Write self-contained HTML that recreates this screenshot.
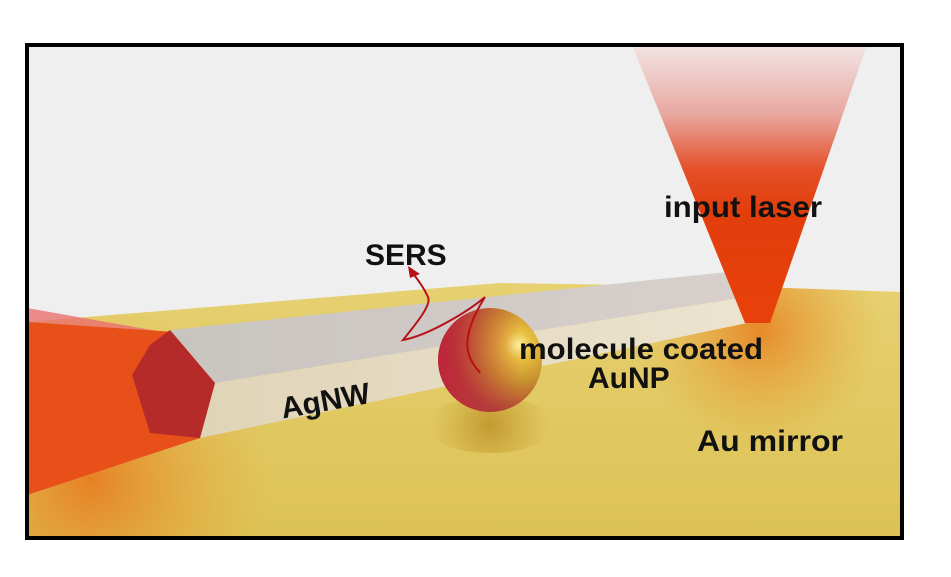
<!DOCTYPE html>
<html><head><meta charset="utf-8"><style>
html,body{margin:0;padding:0;background:#fff;}
svg{display:block;}
text{font-family:"Liberation Sans",sans-serif;font-weight:bold;fill:#111;}
</style></head><body>
<svg width="951" height="577" viewBox="0 0 951 577" xmlns="http://www.w3.org/2000/svg">
<defs>
<clipPath id="fc"><polygon points="27,322 500,283 760,287 902,292 902,538 27,538"/></clipPath>
<linearGradient id="floor" x1="0" y1="0" x2="0" y2="1">
<stop offset="0" stop-color="#e6d070"/><stop offset="1" stop-color="#dcc255"/></linearGradient>
<radialGradient id="glowR" cx="760" cy="330" r="120" gradientUnits="userSpaceOnUse">
<stop offset="0" stop-color="#e8781a" stop-opacity="0.8"/><stop offset="1" stop-color="#e8a030" stop-opacity="0"/></radialGradient>
<radialGradient id="glowL" cx="90" cy="480" r="180" gradientUnits="userSpaceOnUse">
<stop offset="0" stop-color="#e87018" stop-opacity="0.8"/><stop offset="1" stop-color="#e8a030" stop-opacity="0"/></radialGradient>
<radialGradient id="shadow" cx="490" cy="425" r="60" gradientUnits="userSpaceOnUse">
<stop offset="0" stop-color="#b07a10" stop-opacity="0.6"/><stop offset="1" stop-color="#c09020" stop-opacity="0"/></radialGradient>
<linearGradient id="cone" x1="0" y1="45" x2="0" y2="320" gradientUnits="userSpaceOnUse">
<stop offset="0" stop-color="#f2e4e4"/><stop offset="0.25" stop-color="#e8a8a0"/><stop offset="0.45" stop-color="#e4502a"/><stop offset="0.6" stop-color="#e23e0c"/><stop offset="1" stop-color="#e8400a"/></linearGradient>
<radialGradient id="sph" cx="518" cy="345" r="68" gradientUnits="userSpaceOnUse">
<stop offset="0" stop-color="#fff4a0"/><stop offset="0.2" stop-color="#e8c040"/><stop offset="0.55" stop-color="#c89030"/><stop offset="1" stop-color="#b04038"/></radialGradient>
<linearGradient id="sphL" x1="0" y1="0" x2="1" y2="0">
<stop offset="0" stop-color="#c0203a" stop-opacity="0.85"/><stop offset="0.45" stop-color="#c0303a" stop-opacity="0.35"/><stop offset="0.8" stop-color="#c0303a" stop-opacity="0"/></linearGradient>
<linearGradient id="topface" x1="0" y1="0" x2="1" y2="0">
<stop offset="0" stop-color="#c8c4c0"/><stop offset="1" stop-color="#d8d0cc"/></linearGradient>
<linearGradient id="sideface" x1="0" y1="0" x2="1" y2="0">
<stop offset="0" stop-color="#e0d4b8"/><stop offset="1" stop-color="#ece4d0"/></linearGradient>
</defs>
<rect x="27" y="45" width="875" height="493" fill="#efefef"/>
<polygon points="27,322 500,283 760,287 902,292 902,538 27,538" fill="url(#floor)"/>
<g clip-path="url(#fc)">
<rect x="27" y="283" width="875" height="255" fill="url(#glowR)"/>
<rect x="27" y="283" width="875" height="255" fill="url(#glowL)"/>
</g>
<ellipse cx="490" cy="425" rx="65" ry="28" fill="url(#shadow)"/>
<polygon points="27,308 27,322 180,335" fill="#e87070" opacity="0.8"/>
<polygon points="27,322 175,332 215,383 200,438 27,495" fill="#e8501a"/>
<polygon points="170,330 728,272 757,295 215,383" fill="url(#topface)"/>
<polygon points="215,383 757,295 747,323 200,438" fill="url(#sideface)"/>
<polygon points="170,330 215,383 200,438 150,433 132,375 150,345" fill="#b0282a" opacity="0.92"/>
<polygon points="632,45 867,45 770,323 745,323" fill="url(#cone)"/>
<circle cx="490" cy="360" r="52" fill="url(#sph)"/>
<circle cx="490" cy="360" r="52" fill="url(#sphL)"/>
<path d="M480,373 C470,360 455,345 485,297 C470,310 430,335 403,340 C415,325 432,305 428,297 C424,288 418,280 412,272" fill="none" stroke="#b81018" stroke-width="2"/>
<polygon points="408,266 420,274 410,278" fill="#b81018"/>
<text x="365" y="265" font-size="30">SERS</text>
<text x="280" y="410" font-size="30" transform="rotate(-10 330 398)">AgNW</text>
<text x="519" y="359" font-size="30" textLength="244" lengthAdjust="spacingAndGlyphs">molecule coated</text>
<text x="588" y="388" font-size="30">AuNP</text>
<text x="664" y="217" font-size="30" textLength="158" lengthAdjust="spacingAndGlyphs">input laser</text>
<text x="697" y="451" font-size="30" textLength="146" lengthAdjust="spacingAndGlyphs">Au mirror</text>
<rect x="27" y="45" width="875" height="493" fill="none" stroke="#000" stroke-width="4"/>
</svg>
</body></html>
